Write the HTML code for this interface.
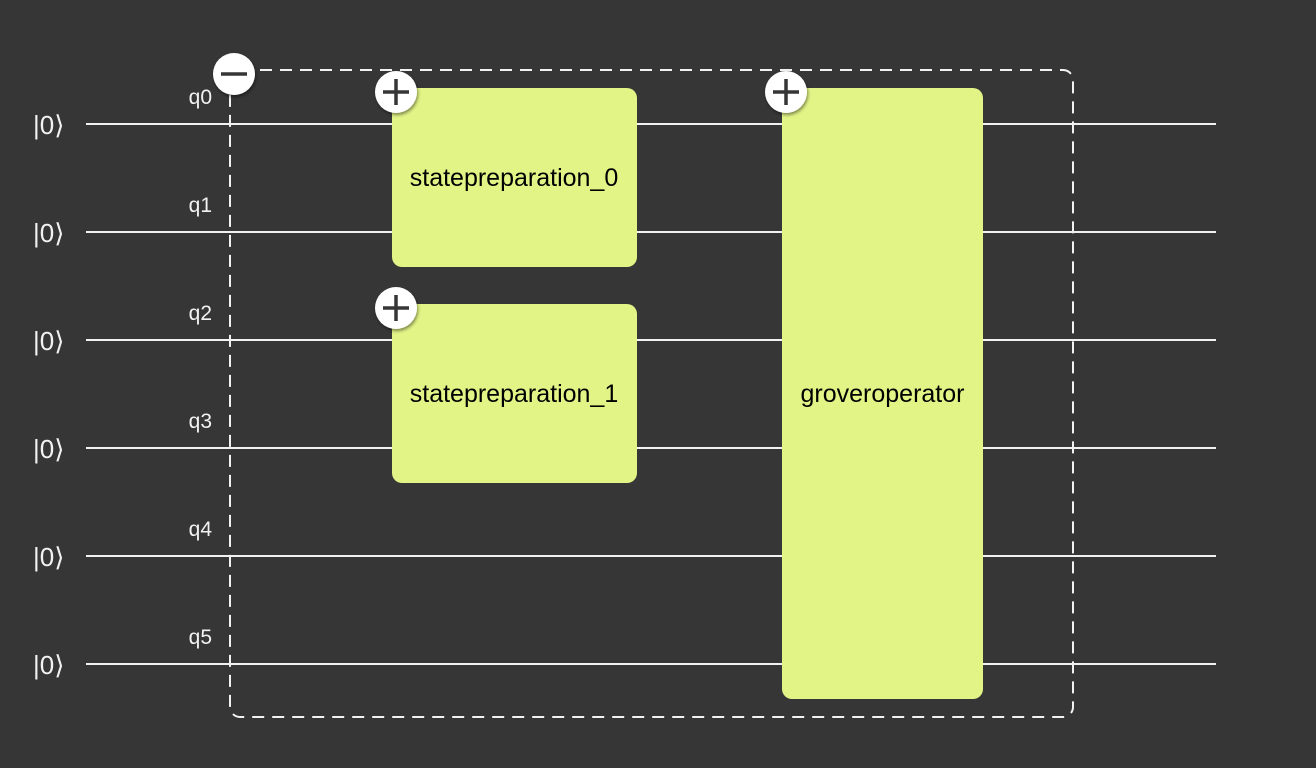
<!DOCTYPE html>
<html><head><meta charset="utf-8"><style>
html,body{margin:0;padding:0;background:#363636;}
svg{display:block;}
text{font-family:"Liberation Sans",Arial,sans-serif;}
</style></head><body>
<svg width="1316" height="768" viewBox="0 0 1316 768" xmlns="http://www.w3.org/2000/svg">
<defs><filter id="sh" x="-30%" y="-30%" width="160%" height="160%"><feDropShadow dx="1" dy="2" stdDeviation="1.5" flood-color="#000" flood-opacity="0.45"/></filter></defs>
<rect width="1316" height="768" fill="#363636"/>
<g stroke="#f2f2f2" stroke-width="2">
<line x1="86" y1="124" x2="1216" y2="124"/>
<line x1="86" y1="232" x2="1216" y2="232"/>
<line x1="86" y1="340" x2="1216" y2="340"/>
<line x1="86" y1="448" x2="1216" y2="448"/>
<line x1="86" y1="556" x2="1216" y2="556"/>
<line x1="86" y1="664" x2="1216" y2="664"/>
</g>
<rect x="230" y="70" width="843" height="647" rx="10" fill="none" stroke="#f2f2f2" stroke-width="2" stroke-dasharray="12 8"/>
<g fill="#f2f2f2" font-size="26">
<text x="33" y="134">|0⟩</text>
<text x="33" y="242">|0⟩</text>
<text x="33" y="350">|0⟩</text>
<text x="33" y="458">|0⟩</text>
<text x="33" y="566">|0⟩</text>
<text x="33" y="674">|0⟩</text>
</g>
<g fill="#f2f2f2" font-size="21" text-anchor="end">
<text x="212" y="104">q0</text>
<text x="212" y="212">q1</text>
<text x="212" y="320">q2</text>
<text x="212" y="428">q3</text>
<text x="212" y="536">q4</text>
<text x="212" y="644">q5</text>
</g>
<g fill="#e2f486">
<rect x="392" y="88" width="245" height="179" rx="10"/>
<rect x="392" y="304" width="245" height="179" rx="10"/>
<rect x="782" y="88" width="201" height="611" rx="10"/>
</g>
<g fill="#000" font-size="25" text-anchor="middle">
<text x="514" y="186">statepreparation_0</text>
<text x="514" y="402">statepreparation_1</text>
<text x="882.5" y="402">groveroperator</text>
</g>
<g filter="url(#sh)" fill="#fff">
<circle cx="234" cy="74" r="21"/>
<circle cx="396" cy="92" r="21"/>
<circle cx="396" cy="308" r="21"/>
<circle cx="786" cy="92" r="21"/>
</g>
<g stroke="#363636" stroke-width="3.5">
<line x1="221" y1="74" x2="247" y2="74"/>
<line x1="383" y1="92" x2="409" y2="92"/><line x1="396" y1="79" x2="396" y2="105"/>
<line x1="383" y1="308" x2="409" y2="308"/><line x1="396" y1="295" x2="396" y2="321"/>
<line x1="773" y1="92" x2="799" y2="92"/><line x1="786" y1="79" x2="786" y2="105"/>
</g>
</svg>
</body></html>
